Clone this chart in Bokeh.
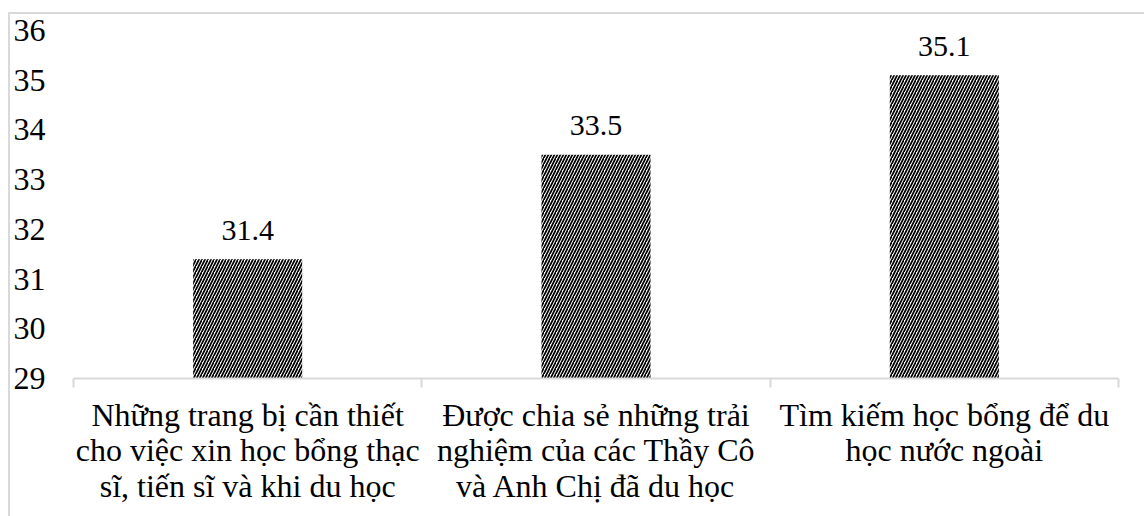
from bokeh.plotting import figure
from bokeh.models import ColumnDataSource, Range1d, FixedTicker
from bokeh.core.properties import value
from bokeh.embed import file_html
from bokeh.resources import INLINE

categories = [
    "Những trang bị cần thiết\ncho việc xin học bổng thạc\nsĩ, tiến sĩ và khi du học",
    "Được chia sẻ những trải\nnghiệm của các Thầy Cô\nvà Anh Chị đã du học",
    "Tìm kiếm học bổng để du\nhọc nước ngoài",
]
values = [31.4, 33.5, 35.1]
value_labels = ["31.4", "33.5", "35.1"]
y_ticks = [29, 30, 31, 32, 33, 34, 35, 36]

FONT = "Liberation Serif"
FS = "32px"
FS_LAB = "30px"

x_pos = [i + 0.5 for i in range(len(categories))]
src = ColumnDataSource(dict(x=x_pos, top=values, lab=value_labels))

p = figure(
    width=1136, height=504,
    x_range=Range1d(0, len(categories)), y_range=Range1d(29, 36),
    output_backend="svg", toolbar_location=None,
    min_border_left=62, min_border_right=28, min_border_top=16, min_border_bottom=140,
    margin=(12, 0, 0, 8),
    styles={"border-top": "2px solid #d9d9d9", "border-left": "2px solid #d9d9d9"},
)
p.outline_line_color = None
p.grid.visible = False

p.vbar(x="x", top="top", bottom=29, width=0.313, source=src,
       fill_color="white", line_color=None,
       hatch_pattern="/", hatch_color="black", hatch_scale=6, hatch_weight=1.7)

p.text(x="x", y="top", text="lab", source=src, text_align="center",
       text_baseline="alphabetic", y_offset=-29,
       text_font=value(FONT), text_font_size=FS_LAB, text_color="black")

yax = p.yaxis[0]
yax.ticker = FixedTicker(ticks=y_ticks)
yax.axis_line_color = None
yax.major_tick_line_color = None
yax.major_tick_out = 0
yax.minor_tick_line_color = None
yax.major_label_standoff = 28
yax.major_label_text_font = FONT
yax.major_label_text_font_size = FS
yax.major_label_text_color = "black"

xax = p.xaxis[0]
xax.ticker = FixedTicker(ticks=x_pos, minor_ticks=list(range(len(categories) + 1)))
xax.major_label_overrides = {x: c for x, c in zip(x_pos, categories)}
xax.axis_line_color = "#d9d9d9"
xax.axis_line_width = 2
xax.major_tick_line_color = None
xax.major_tick_out = 0
xax.major_tick_in = 0
xax.minor_tick_line_color = "#d9d9d9"
xax.minor_tick_line_width = 2
xax.minor_tick_out = 9
xax.minor_tick_in = 0
xax.major_label_standoff = 9
xax.major_label_text_font = FONT
xax.major_label_text_font_size = FS
xax.major_label_text_color = "black"
xax.major_label_text_line_height = 0.99

open("out.html", "w").write(file_html(p, INLINE))
